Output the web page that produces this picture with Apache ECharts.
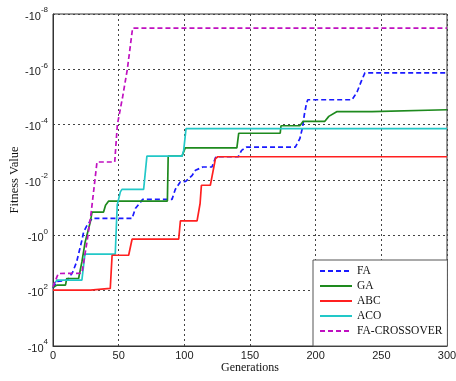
<!DOCTYPE html>
<html><head><meta charset="utf-8">
<script src="https://cdn.jsdelivr.net/npm/echarts@6/dist/echarts.min.js"></script>
<style>html,body{margin:0;padding:0;background:#fff}#c{width:456px;height:381px}</style>
</head><body><div id="c"></div>
<script>
// y values are exponents e of fitness = -10^e
const seriesNames = ['FA', 'GA', 'ABC', 'ACO', 'FA-CROSSOVER'];
const xTicks = [0, 50, 100, 150, 200, 250, 300];
const yExponentTicks = [-8, -6, -4, -2, 0, 2, 4];

const faGen = [0,3,11,15,18,22,23.3,25.9,29.7,60.2,62.7,68.3,90.6,93.1,96.9,101,106,108.5,114,121,124,141,143.6,147.5,184.5,188,190,191.3,193,194,227.7,231.5,235,237.5,300];
const faExp = [1.91,1.67,1.62,1.33,0.96,0.18,-0.12,-0.36,-0.61,-0.61,-0.97,-1.30,-1.30,-1.66,-1.93,-1.95,-2.17,-2.35,-2.47,-2.47,-2.84,-2.84,-3.07,-3.19,-3.19,-3.50,-3.90,-4.34,-4.77,-4.90,-4.90,-5.18,-5.60,-5.87,-5.87];

const gaGen = [0,3,9.5,10.5,19.5,21,22,24.5,28.4,29.7,38.5,40,42.4,87.1,87.7,98.2,100.7,140,141.4,173,173.6,188,190.5,207,210,216,242.9,244,300];
const gaExp = [1.89,1.80,1.80,1.56,1.56,1.20,0.96,0.24,-0.48,-0.84,-0.84,-1.09,-1.24,-1.24,-2.86,-2.86,-3.16,-3.16,-3.69,-3.69,-3.96,-3.96,-4.12,-4.12,-4.30,-4.47,-4.47,-4.54,-4.54];

const abcGen = [0,28.5,29.5,43.6,45,57.6,60.2,95.7,97,109.7,112,113,119.8,123.7,125.5,300];
const abcExp = [1.98,1.98,1.92,1.92,0.72,0.72,0.14,0.14,-0.52,-0.52,-1.15,-1.81,-1.81,-2.77,-2.84,-2.84];

const acoGen = [0,3,22,24.3,47.4,48.9,51.3,52.5,69,71.5,98.2,99.5,101.3,300];
const acoExp = [1.80,1.62,1.62,0.68,0.68,-1.1,-1.57,-1.66,-1.66,-2.86,-2.86,-3.07,-3.86,-3.86];

const fxGen = [0,4,22,26,29,33.5,47,49,53,56.6,60.6,300];
const fxExp = [1.86,1.38,1.37,0.2,-0.8,-2.65,-2.65,-4.0,-5.0,-6.0,-7.49,-7.49];

const colors = ['#1a1aff', '#1e8a1e', '#ff2020', '#22c8c8', '#c010c0'];
const dashed = [true, false, false, false, true];

const zip = (a, b) => a.map((v, i) => [v, b[i]]);
const dataSets = [zip(faGen, faExp), zip(gaGen, gaExp), zip(abcGen, abcExp), zip(acoGen, acoExp), zip(fxGen, fxExp)];

const chart = echarts.init(document.getElementById('c'), null, {renderer: 'canvas'});
const gridLine = {show: true, lineStyle: {color: '#444', type: [2, 3], width: 1}};
chart.setOption({
  animation: false,
  backgroundColor: '#fff',
  grid: {left: 53, right: 9, top: 14, bottom: 35, show: true, borderColor: '#333', borderWidth: 1, containLabel: false, outerBoundsMode: 'none'},
  xAxis: {
    type: 'value', min: xTicks[0], max: xTicks[xTicks.length - 1], interval: 50,
    name: 'Generations', nameLocation: 'middle', nameGap: 16, nameMoveOverlap: false,
    nameTextStyle: {fontFamily: 'Liberation Serif', fontSize: 12, color: '#111'},
    axisLine: {show: true, onZero: false, lineStyle: {color: '#333', width: 1}},
    axisTick: {show: false},
    splitLine: gridLine,
    axisLabel: {fontFamily: 'Liberation Sans', fontSize: 11, color: '#222', margin: 4}
  },
  yAxis: {
    type: 'value', min: yExponentTicks[0], max: yExponentTicks[yExponentTicks.length - 1], interval: 2, inverse: true,
    name: 'Fitness Value', nameLocation: 'middle', nameGap: 32, nameMoveOverlap: false,
    nameTextStyle: {fontFamily: 'Liberation Serif', fontSize: 12.5, color: '#111'},
    axisLine: {show: true, onZero: false, lineStyle: {color: '#333', width: 1}},
    axisTick: {show: false},
    splitLine: gridLine,
    axisLabel: {
      margin: 5,
      formatter: v => '{b|-10}{s|' + v + '}',
      rich: {
        b: {fontFamily: 'Liberation Sans', fontSize: 11, color: '#222', lineHeight: 16, verticalAlign: 'bottom'},
        s: {fontFamily: 'Liberation Sans', fontSize: 8, color: '#222', lineHeight: 8, verticalAlign: 'top'}
      }
    }
  },
  legend: {
    orient: 'vertical', left: 313, top: 260,
    itemWidth: 32, itemHeight: 10, itemGap: 3,
    padding: [5, 5, 9, 6],
    borderColor: '#555', borderWidth: 1, backgroundColor: '#fff',
    itemStyle: {opacity: 0},
    textStyle: {fontFamily: 'Liberation Serif', fontSize: 11.5, color: '#111'},
    data: seriesNames
  },
  series: seriesNames.map((n, i) => ({
    name: n, type: 'line', data: dataSets[i], symbol: 'none', showSymbol: false,
    z: i === 2 ? 5 : 3,
    lineStyle: {color: colors[i], width: 1.7, type: dashed[i] ? [5, 3] : 'solid'},
    itemStyle: {color: colors[i]}
  }))
});
</script></body></html>
